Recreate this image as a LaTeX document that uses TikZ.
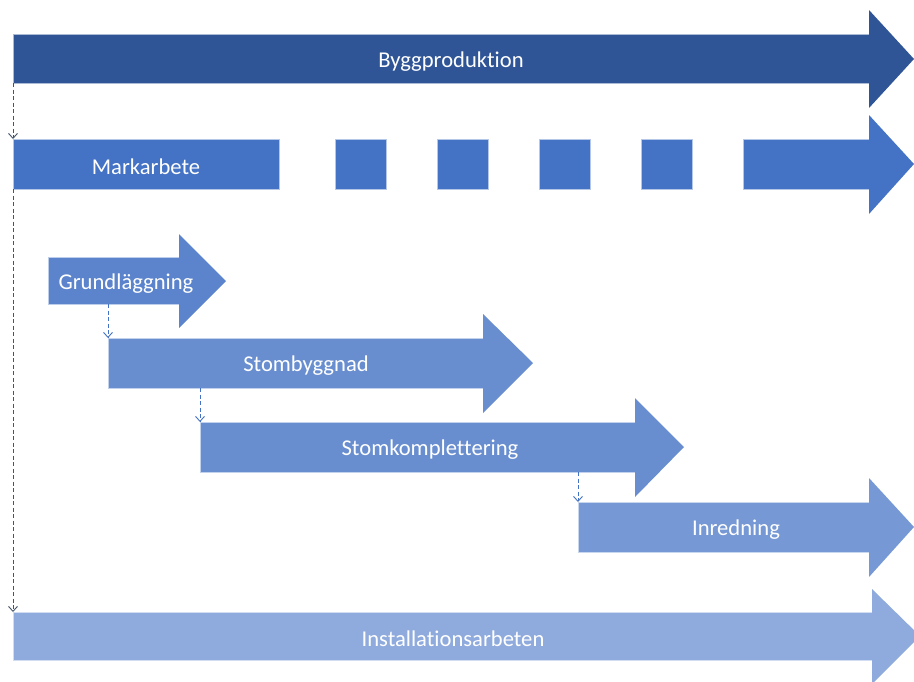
\documentclass[tikz,border=0pt]{standalone}
\usepackage{fontspec}
\setmainfont[RawFeature=-liga]{Carlito}
\usetikzlibrary{arrows.meta}
\definecolor{cBygg}{HTML}{2F5597}
\definecolor{cMark}{HTML}{4472C4}
\definecolor{cGrund}{HTML}{5B84CC}
\definecolor{cStom}{HTML}{698ED0}
\definecolor{cInred}{HTML}{7698D4}
\definecolor{cInst}{HTML}{8FAADC}
\definecolor{cConn}{HTML}{44546A}
\tikzset{
  bodybox/.style={rectangle, inner sep=0pt, outer sep=0pt, anchor=north west, draw=white!60!#1, line width=0.4pt, fill=#1},
  lbl/.style={text=white, font=\fontsize{22.6}{26}\selectfont, inner sep=0pt, yshift=-3pt},
  conn/.style={draw=#1, line width=0.9pt, dash pattern=on 4pt off 2.5pt, -{Straight Barb[length=5pt,width=9pt]}},
}
\begin{document}
\begin{tikzpicture}[x=1pt,y=-1pt]
\useasboundingbox (0,0) rectangle (914,681);
% Byggproduktion
\node[bodybox=cBygg, minimum width=856pt, minimum height=49pt] (byg) at (13,34) {};
\fill[cBygg] (869,10) -- (914,59) -- (869,108) -- cycle;
\node[lbl] (bygT) at (451,59) {Byggproduktion};
% Markarbete
\node[bodybox=cMark, minimum width=266pt, minimum height=50pt] (mark) at (13,139) {};
\node[bodybox=cMark, minimum width=51pt, minimum height=50pt] (sq1) at (335,139) {};
\node[bodybox=cMark, minimum width=51pt, minimum height=50pt] (sq2) at (437,139) {};
\node[bodybox=cMark, minimum width=51pt, minimum height=50pt] (sq3) at (539,139) {};
\node[bodybox=cMark, minimum width=51pt, minimum height=50pt] (sq4) at (641,139) {};
\node[bodybox=cMark, minimum width=126pt, minimum height=50pt] (markend) at (743,139) {};
\fill[cMark] (869,115) -- (914,164) -- (869,214) -- cycle;
\node[lbl] (markT) at (146,164) {Markarbete};
% Grundläggning
\node[bodybox=cGrund, minimum width=131pt, minimum height=47pt] (grund) at (48,257) {};
\fill[cGrund] (179,234) -- (226,281) -- (179,328) -- cycle;
\node[lbl] (grundT) at (126,281) {Grundläggning};
% Stombyggnad
\node[bodybox=cStom, minimum width=375pt, minimum height=50pt] (stomb) at (108,338) {};
\fill[cStom] (483,314) -- (533,363) -- (483,413) -- cycle;
\node[lbl] (stombT) at (306,363) {Stombyggnad};
% Stomkomplettering
\node[bodybox=cStom, minimum width=435pt, minimum height=50pt] (stomk) at (200,422) {};
\fill[cStom] (635,398) -- (684,447) -- (635,497) -- cycle;
\node[lbl] (stomkT) at (430,447) {Stomkomplettering};
% Inredning
\node[bodybox=cInred, minimum width=291pt, minimum height=50pt] (inred) at (578,502) {};
\fill[cInred] (869,478) -- (914,527) -- (869,577) -- cycle;
\node[lbl] (inredT) at (736,527) {Inredning};
% Installationsarbeten
\node[bodybox=cInst, minimum width=859pt, minimum height=48pt] (inst) at (13,612) {};
\fill[cInst] (872,589) -- (920,636) -- (872,684) -- cycle;
\node[lbl] (instT) at (453,636) {Installationsarbeten};
% connectors
\draw[conn=cConn] (byg.south west) -- (mark.north west);
\draw[conn=cConn] (mark.south west) -- (inst.north west);
\coordinate (g1) at (108,304);
\draw[conn=cMark] (g1) -- (stomb.north west);
\coordinate (s1) at (200,388);
\draw[conn=cMark] (s1) -- (stomk.north west);
\coordinate (k1) at (578,472);
\draw[conn=cMark] (k1) -- (inred.north west);
\end{tikzpicture}
\end{document}
